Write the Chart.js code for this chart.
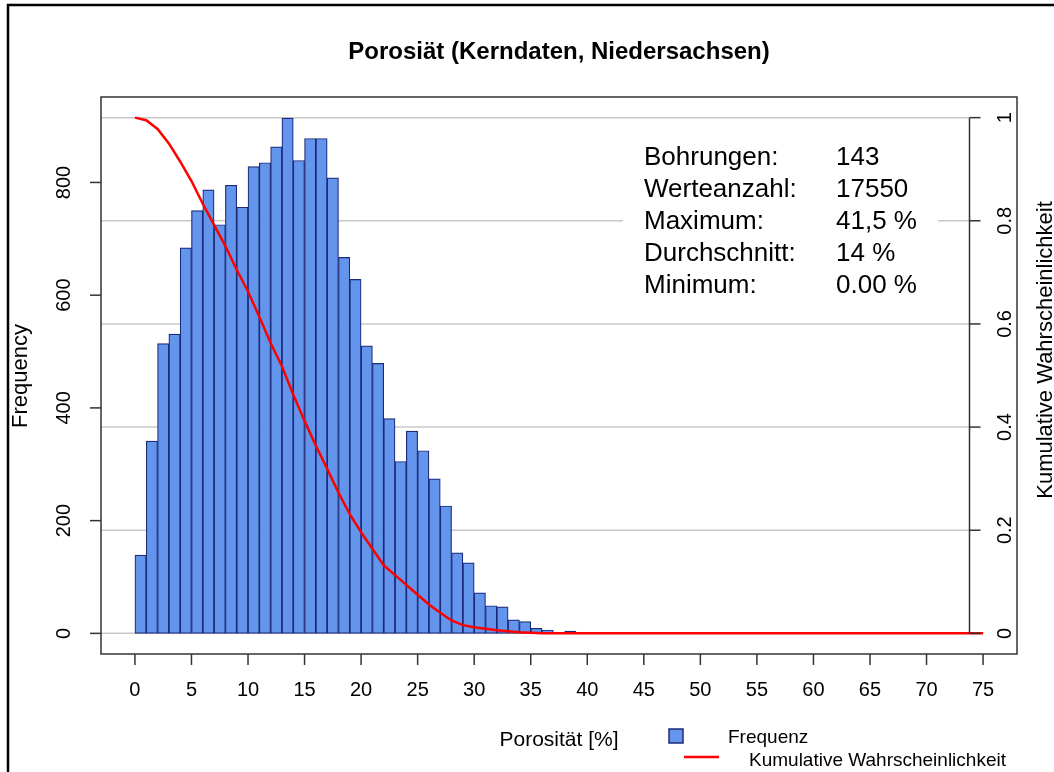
<!DOCTYPE html>
<html>
<head>
<meta charset="utf-8">
<script src="https://cdn.jsdelivr.net/npm/chart.js@4"></script>
<style>
  html, body { margin: 0; padding: 0; background: #fff; }
</style>
</head>
<body>
<canvas id="myChart" width="1054" height="772"></canvas>
<script>
// histogram bins (left edge, width 1 %)
const binStart = [0,1,2,3,4,5,6,7,8,9,10,11,12,13,14,15,16,17,18,19,20,21,22,23,24,
  25,26,27,28,29,30,31,32,33,34,35,36,37,38,39,40,41,42,43,44,45,46,47,48,49,
  50,51,52,53,54,55,56,57,58,59,60,61,62,63,64,65,66,67,68,69,70,71,72,73,74];
const frequency = [139,341,514,531,684,750,787,725,795,756,828,835,863,914,839,878,878,808,667,628,510,
  479,381,305,359,324,274,226,143,125,72,49,47,24,21,9,6,1,4,
  0,0,0,0,0,0,0,0,0,0,0,0,0,0,0,0,0,0,0,0,0,0,0,0,0,0,0,0,0,0,0,0,0,0,0,2];

// cumulative (exceedance) curve
const cumX = [0,1,2,3,4,5,6,7,8,9,10,11,12,13,14,15,16,17,18,19,20,21,22,23,24,25,26,27,28,29,30,31,32,33,34,35,36,75];
const cumY = [1.0,0.995,0.978,0.95,0.915,0.877,0.833,0.792,0.751,0.705,0.663,0.614,0.563,0.518,0.463,0.412,0.364,0.319,0.273,0.231,0.196,
  0.164,0.132,0.113,0.094,0.075,0.056,0.04,0.025,0.016,0.012,0.009,0.006,0.004,0.002,0.001,0,0];

const xTicks = [0,5,10,15,20,25,30,35,40,45,50,55,60,65,70,75];
const freqTicks = [0,200,400,600,800];
const cumTicks = [0,0.2,0.4,0.6,0.8,1];
const rightAxisAt = 73.8;

const statLabels = ['Bohrungen:', 'Werteanzahl:', 'Maximum:', 'Durchschnitt:', 'Minimum:'];
const statValues = ['143', '17550', '41,5 %', '14 %', '0.00 %'];

const FONT = "'Liberation Sans', Arial, sans-serif";

function vtext(ctx, txt, x, y, font) {
  ctx.save();
  ctx.translate(x, y);
  ctx.rotate(-Math.PI / 2);
  ctx.font = font;
  ctx.textAlign = 'center';
  ctx.textBaseline = 'middle';
  ctx.fillText(txt, 0, 0);
  ctx.restore();
}

const rStyle = {
  id: 'rStyle',
  beforeDraw(chart) {
    const ctx = chart.ctx;
    ctx.save();
    ctx.fillStyle = '#fff';
    ctx.fillRect(0, 0, chart.width, chart.height);
    ctx.strokeStyle = '#000';
    ctx.lineWidth = 2.5;
    ctx.beginPath();
    ctx.moveTo(8, chart.height);
    ctx.lineTo(8, 5);
    ctx.lineTo(chart.width, 5);
    ctx.stroke();
    ctx.restore();
  },
  beforeDatasetsDraw(chart) {
    const {ctx, chartArea: a, scales: {x, y2}} = chart;
    const xr = x.getPixelForValue(rightAxisAt);
    ctx.save();
    ctx.strokeStyle = '#c8c8c8';
    ctx.lineWidth = 1.5;
    cumTicks.forEach(v => {
      const py = y2.getPixelForValue(v);
      ctx.beginPath(); ctx.moveTo(a.left, py); ctx.lineTo(xr, py); ctx.stroke();
    });
    // stats text with white background
    ctx.fillStyle = '#fff';
    ctx.fillRect(623, 134, 315, 172);
    ctx.fillStyle = '#000';
    ctx.font = '26px ' + FONT;
    ctx.textBaseline = 'middle';
    ctx.textAlign = 'left';
    statLabels.forEach((t, i) => {
      ctx.fillText(t, 644, 158 + i * 32);
      ctx.fillText(statValues[i], 836, 158 + i * 32);
    });
    ctx.restore();
  },
  afterDraw(chart) {
    const {ctx, chartArea: a, scales: {x, y, y2}} = chart;
    ctx.save();
    ctx.strokeStyle = '#333';
    ctx.lineWidth = 1.5;
    ctx.strokeRect(a.left, a.top, a.right - a.left, a.bottom - a.top);
    ctx.fillStyle = '#000';

    // bottom axis
    ctx.font = '20px ' + FONT;
    ctx.textAlign = 'center';
    ctx.textBaseline = 'middle';
    xTicks.forEach(v => {
      const px = x.getPixelForValue(v);
      ctx.beginPath(); ctx.moveTo(px, a.bottom); ctx.lineTo(px, a.bottom + 11); ctx.stroke();
      ctx.fillText(String(v), px, 690);
    });

    // left axis
    freqTicks.forEach(v => {
      const py = y.getPixelForValue(v);
      ctx.beginPath(); ctx.moveTo(a.left - 11, py); ctx.lineTo(a.left, py); ctx.stroke();
      vtext(ctx, String(v), 64, py, '20px ' + FONT);
    });

    // right axis (inside the box)
    const xr = x.getPixelForValue(rightAxisAt);
    ctx.beginPath();
    ctx.moveTo(xr, y2.getPixelForValue(0)); ctx.lineTo(xr, y2.getPixelForValue(1));
    ctx.stroke();
    cumTicks.forEach(v => {
      const py = y2.getPixelForValue(v);
      ctx.beginPath(); ctx.moveTo(xr, py); ctx.lineTo(xr + 11, py); ctx.stroke();
      vtext(ctx, String(v), 1005, py, '20px ' + FONT);
    });

    // titles
    ctx.font = 'bold 24px ' + FONT;
    ctx.textAlign = 'center';
    ctx.fillText('Porosiät (Kerndaten, Niedersachsen)', (a.left + a.right) / 2, 52);
    ctx.font = '21px ' + FONT;
    ctx.fillText('Porosität [%]', (a.left + a.right) / 2, 740);
    vtext(ctx, 'Frequency', 21, 376, '22px ' + FONT);
    vtext(ctx, 'Kumulative Wahrscheinlichkeit', 1046, 350, '22px ' + FONT);

    // legend
    ctx.fillStyle = '#6495ed';
    ctx.fillRect(669, 729, 14, 14);
    ctx.strokeStyle = '#1c2a7a';
    ctx.lineWidth = 1.5;
    ctx.strokeRect(669, 729, 14, 14);
    ctx.strokeStyle = '#ff0000';
    ctx.lineWidth = 2.5;
    ctx.beginPath(); ctx.moveTo(684, 757); ctx.lineTo(719, 757); ctx.stroke();
    ctx.fillStyle = '#000';
    ctx.font = '19px ' + FONT;
    ctx.textAlign = 'left';
    ctx.fillText('Frequenz', 728, 738);
    ctx.fillText('Kumulative Wahrscheinlichkeit', 749, 761);
    ctx.restore();
  }
};

new Chart(document.getElementById('myChart'), {
  type: 'bar',
  data: {
    datasets: [
      {
        type: 'line',
        label: 'Kumulative Wahrscheinlichkeit',
        data: cumX.map((v, i) => ({x: v, y: cumY[i]})),
        yAxisID: 'y2',
        borderColor: '#ff0000',
        borderWidth: 2.5,
        pointRadius: 0,
        tension: 0,
        order: 0
      },
      {
        label: 'Frequenz',
        data: binStart.map((v, i) => ({x: v + 0.5, y: frequency[i]})),
        yAxisID: 'y',
        backgroundColor: '#6495ed',
        borderColor: '#1c2a7a',
        borderWidth: 1.2,
        borderSkipped: false,
        barPercentage: 1,
        categoryPercentage: 1,
        order: 1
      }
    ]
  },
  options: {
    responsive: false,
    animation: false,
    layout: {padding: {left: 101, top: 97, right: 37, bottom: 118}},
    plugins: {legend: {display: false}, title: {display: false}, tooltip: {enabled: false}},
    scales: {
      x: {type: 'linear', min: -3, max: 78, offset: false, display: false},
      y: {min: -36.6, max: 951.6, display: false},
      y2: {min: -0.04, max: 1.04, display: false, position: 'right'}
    }
  },
  plugins: [rStyle]
});
</script>
</body>
</html>
